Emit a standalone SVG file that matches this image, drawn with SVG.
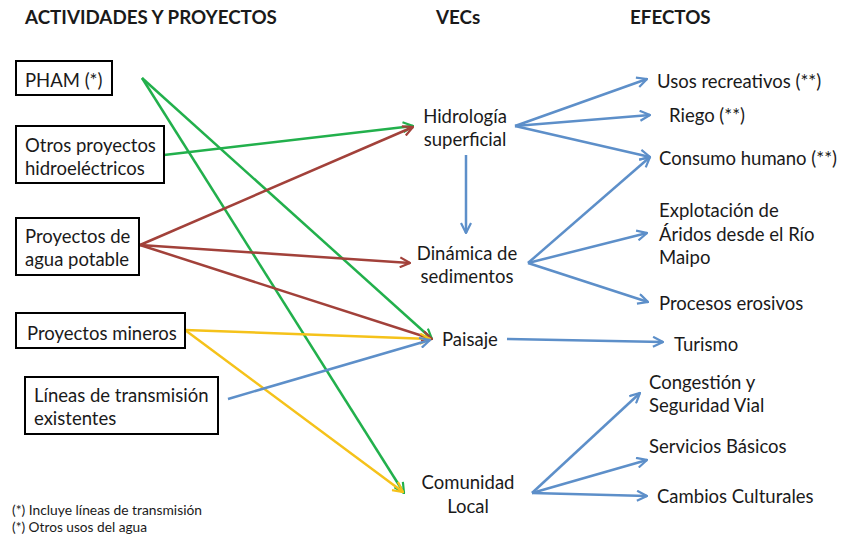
<svg xmlns="http://www.w3.org/2000/svg" width="841" height="537" viewBox="0 0 841 537">
<style>
  text { font-family: Lato, "Open Sans", "Liberation Sans", sans-serif; fill: #1a1a1a; font-size: 18.5px; }
  .title { font-weight: bold; font-size: 18.8px; }
  .note { font-size: 12.5px; }
  .box { fill: #fff; stroke: #000; stroke-width: 2; }
  .c { fill: none; stroke-width: 2.5; }
  .g { stroke: #22b04c; marker-end: url(#ag); }
  .r { stroke: #a2413a; marker-end: url(#ar); }
  .y { stroke: #f5c21a; marker-end: url(#ay); }
  .b { stroke: #5d8fc9; marker-end: url(#ab); }
  .mid { text-anchor: middle; }
</style>
<defs>
  <marker id="ag" markerUnits="userSpaceOnUse" viewBox="0 0 12 12" markerWidth="12" markerHeight="12" refX="11" refY="6" orient="auto"><path d="M1,1 L11,6 L1,11" fill="none" stroke="#22b04c" stroke-width="2.2"/></marker>
  <marker id="ar" markerUnits="userSpaceOnUse" viewBox="0 0 12 12" markerWidth="12" markerHeight="12" refX="11" refY="6" orient="auto"><path d="M1,1 L11,6 L1,11" fill="none" stroke="#a2413a" stroke-width="2.2"/></marker>
  <marker id="ay" markerUnits="userSpaceOnUse" viewBox="0 0 12 12" markerWidth="12" markerHeight="12" refX="11" refY="6" orient="auto"><path d="M1,1 L11,6 L1,11" fill="none" stroke="#f5c21a" stroke-width="2.2"/></marker>
  <marker id="ab" markerUnits="userSpaceOnUse" viewBox="0 0 12 12" markerWidth="12" markerHeight="12" refX="11" refY="6" orient="auto"><path d="M1,1 L11,6 L1,11" fill="none" stroke="#5d8fc9" stroke-width="2.2"/></marker>
</defs>
<rect width="841" height="537" fill="#fff"/>

<g id="titles">
  <text class="title" x="25" y="24">ACTIVIDADES Y PROYECTOS</text>
  <text class="title" x="436" y="24">VECs</text>
  <text class="title" x="630" y="24">EFECTOS</text>
</g>

<g id="connectors">
  <line class="c g" x1="142" y1="78" x2="432" y2="339"/>
  <line class="c g" x1="142" y1="78" x2="404" y2="493"/>
  <line class="c g" x1="164" y1="155" x2="413" y2="126"/>
  <line class="c r" x1="140" y1="245" x2="413" y2="127"/>
  <line class="c r" x1="140" y1="245" x2="410" y2="263"/>
  <line class="c r" x1="140" y1="245" x2="432" y2="339"/>
  <line class="c y" x1="185" y1="330" x2="430" y2="339"/>
  <line class="c y" x1="185" y1="330" x2="403" y2="492"/>
  <line class="c b" x1="228" y1="399" x2="430" y2="340"/>
  <line class="c b" x1="515" y1="126" x2="647" y2="79"/>
  <line class="c b" x1="515" y1="126" x2="650" y2="115"/>
  <line class="c b" x1="515" y1="126" x2="650" y2="157"/>
  <line class="c b" x1="466" y1="155" x2="466" y2="233"/>
  <line class="c b" x1="528" y1="263" x2="650" y2="157"/>
  <line class="c b" x1="528" y1="263" x2="647" y2="233"/>
  <line class="c b" x1="528" y1="263" x2="648" y2="302"/>
  <line class="c b" x1="507" y1="339" x2="663" y2="342"/>
  <line class="c b" x1="532" y1="493" x2="640" y2="393"/>
  <line class="c b" x1="532" y1="493" x2="647" y2="460"/>
  <line class="c b" x1="532" y1="493" x2="647" y2="496"/>
</g>

<g id="pham">
  <rect class="box" x="16" y="61" width="96" height="34"/>
  <text x="25" y="87">PHAM (*)</text>
</g>
<g id="otros">
  <rect class="box" x="16" y="126" width="148" height="57"/>
  <text x="25" y="152">Otros proyectos</text>
  <text x="25" y="175">hidroeléctricos</text>
</g>
<g id="agua">
  <rect class="box" x="16" y="218" width="123" height="57"/>
  <text x="25" y="243">Proyectos de</text>
  <text x="25" y="266">agua potable</text>
</g>
<g id="mineros">
  <rect class="box" x="16" y="313" width="169" height="35"/>
  <text x="27" y="340">Proyectos mineros</text>
</g>
<g id="lineas">
  <rect class="box" x="25" y="377" width="193" height="57"/>
  <text x="34" y="402">Líneas de transmisión</text>
  <text x="34" y="425">existentes</text>
</g>

<g id="hidrologia">
  <text class="mid" x="465" y="123">Hidrología</text>
  <text class="mid" x="465" y="146">superficial</text>
</g>
<g id="dinamica">
  <text class="mid" x="467" y="260">Dinámica de</text>
  <text class="mid" x="467" y="283">sedimentos</text>
</g>
<g id="paisaje">
  <text x="442" y="346">Paisaje</text>
</g>
<g id="comunidad">
  <text class="mid" x="468" y="489">Comunidad</text>
  <text class="mid" x="468" y="513">Local</text>
</g>

<g id="usos"><text x="657" y="88">Usos recreativos (**)</text></g>
<g id="riego"><text x="669" y="122">Riego (**)</text></g>
<g id="consumo"><text x="659" y="165">Consumo humano (**)</text></g>
<g id="explotacion">
  <text x="659" y="217">Explotación de</text>
  <text x="659" y="241">Áridos desde el Río</text>
  <text x="659" y="264">Maipo</text>
</g>
<g id="procesos"><text x="659" y="310">Procesos erosivos</text></g>
<g id="turismo"><text x="674" y="351">Turismo</text></g>
<g id="congestion">
  <text x="649" y="389">Congestión y</text>
  <text x="649" y="412">Seguridad Vial</text>
</g>
<g id="servicios"><text x="649" y="453">Servicios Básicos</text></g>
<g id="cambios"><text x="657" y="503">Cambios Culturales</text></g>

<g id="notes">
  <text class="note" x="12" y="515" textLength="190" lengthAdjust="spacingAndGlyphs">(*) Incluye líneas de transmisión</text>
  <text class="note" x="12" y="532" textLength="135" lengthAdjust="spacingAndGlyphs">(*) Otros usos del agua</text>
</g>
</svg>
